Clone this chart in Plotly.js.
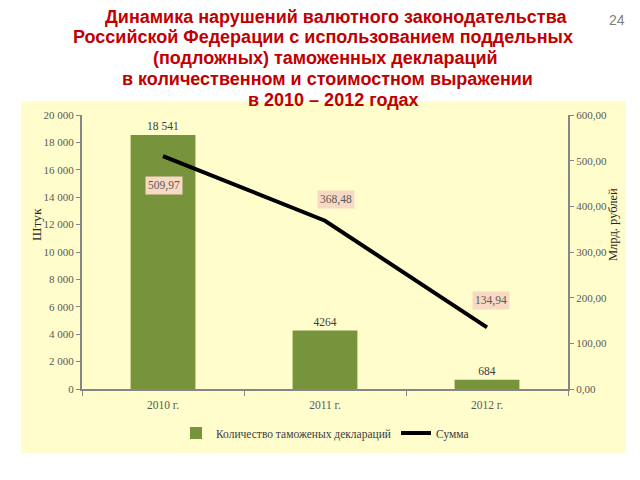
<!DOCTYPE html>
<html>
<head>
<meta charset="utf-8">
<script src="https://cdn.plot.ly/plotly-3.0.1.min.js"></script>
<style>html,body{margin:0;padding:0;background:#fff;}#chart{width:640px;height:480px;}</style>
</head>
<body>
<div id="chart"></div>
<script>
const years = ["2010 г.", "2011 г.", "2012 г."];
const declarations = [18541, 4264, 684];
const declarationLabels = ["18 541", "4264", "684"];
const sums = [509.97, 368.48, 134.94];
const sumLabels = ["509,97", "368,48", "134,94"];
const sumLabelShiftX = [1, 11, 4];
const sumLabelShiftY = [-29, 21, 27];
const titleLines = [
  "Динамика нарушений валютного законодательства",
  "Российской Федерации с использованием поддельных",
  "(подложных) таможенных деклараций",
  "в количественном и стоимостном выражении",
  "в 2010 – 2012 годах"
];
const titleLineY = [17, 37, 58, 79, 100];
const titleLineX = [336, 323, 325, 327, 333];
const leftAxisTitle = "Штук";
const rightAxisTitle = "Млрд. рублей";

const serif = "Liberation Serif, Times New Roman, serif";
const sans = "Liberation Sans, Arial, sans-serif";
const tickColor = "#595959";
const px = v => (v - 82) / 486;
const py = v => (389 - v) / 274;

const traces = [
  {
    type: "bar", name: "Количество таможеных деклараций",
    x: years, y: declarations, text: declarationLabels,
    textposition: "outside", cliponaxis: false,
    textfont: {family: serif, size: 11.5, color: "#404040"},
    marker: {color: "#77933c"}, width: 0.4, yaxis: "y"
  },
  {
    type: "scatter", mode: "lines", name: "Сумма",
    x: years, y: sums, yaxis: "y2",
    line: {color: "#000000", width: 4}
  }
];

const annotations = sums.map((v, i) => ({
  x: years[i], y: v, xref: "x", yref: "y2",
  text: sumLabels[i], showarrow: false,
  xshift: sumLabelShiftX[i], yshift: sumLabelShiftY[i],
  bgcolor: "#f8d9c4", borderpad: 2,
  font: {family: serif, size: 11.5, color: "#595959"}
}));
annotations.push({
  xref: "paper", yref: "paper", x: px(617), y: py(20), xanchor: "center", yanchor: "middle",
  text: "24", showarrow: false, font: {family: sans, size: 14, color: "#7f7f7f"}
});
titleLines.forEach((t, i) => annotations.push({
  xref: "paper", yref: "paper", x: px(titleLineX[i]), y: py(titleLineY[i]),
  xanchor: "center", yanchor: "middle",
  text: "<b>" + t + "</b>", showarrow: false,
  font: {family: sans, size: 18, color: "#c00000"}
}));
annotations.push({
  xref: "paper", yref: "paper", x: px(36), y: py(225), textangle: -90,
  xanchor: "center", yanchor: "middle",
  text: leftAxisTitle, showarrow: false,
  font: {family: serif, size: 13.5, color: "#262626"}
});
annotations.push({
  xref: "paper", yref: "paper", x: px(613), y: py(225), textangle: -90,
  xanchor: "center", yanchor: "middle",
  text: rightAxisTitle, showarrow: false,
  font: {family: serif, size: 12.5, color: "#262626"}
});

const layout = {
  width: 640, height: 480,
  margin: {l: 82, r: 72, t: 115, b: 91},
  paper_bgcolor: "#ffffff", plot_bgcolor: "rgba(0,0,0,0)",
  showlegend: true,
  xaxis: {
    type: "category", showline: true, linecolor: "#868686", linewidth: 2,
    ticks: "outside", tickson: "boundaries", ticklen: 5, tickcolor: "#868686", tickwidth: 1,
    ticklabelstandoff: 4,
    tickfont: {family: serif, size: 11.5, color: tickColor}, showgrid: false, zeroline: false
  },
  yaxis: {
    range: [0, 20000], dtick: 2000, tickformat: ",d",
    showline: true, linecolor: "#868686", linewidth: 2,
    ticks: "outside", ticklen: 4, tickcolor: "#868686",
    tickfont: {family: serif, size: 11, color: tickColor},
    showgrid: false, zeroline: false
  },
  yaxis2: {
    range: [0, 600], dtick: 100, tickformat: ".2f", overlaying: "y", side: "right",
    showline: true, linecolor: "#868686", linewidth: 2,
    ticks: "outside", ticklen: 4, tickcolor: "#868686",
    tickfont: {family: serif, size: 11, color: tickColor},
    showgrid: false, zeroline: false
  },
  separators: ", ",
  legend: {
    orientation: "h", x: 0.5, xanchor: "center", y: py(433), yanchor: "middle",
    font: {family: serif, size: 11.5, color: "#404040"}, bgcolor: "rgba(0,0,0,0)"
  },
  shapes: [{
    type: "rect", xref: "paper", yref: "paper", layer: "below",
    x0: px(21), x1: px(626), y0: py(453), y1: py(101),
    fillcolor: "#fefdcb", line: {width: 0}
  }],
  annotations: annotations
};

Plotly.newPlot("chart", traces, layout, {displayModeBar: false, staticPlot: true});
</script>
</body>
</html>
